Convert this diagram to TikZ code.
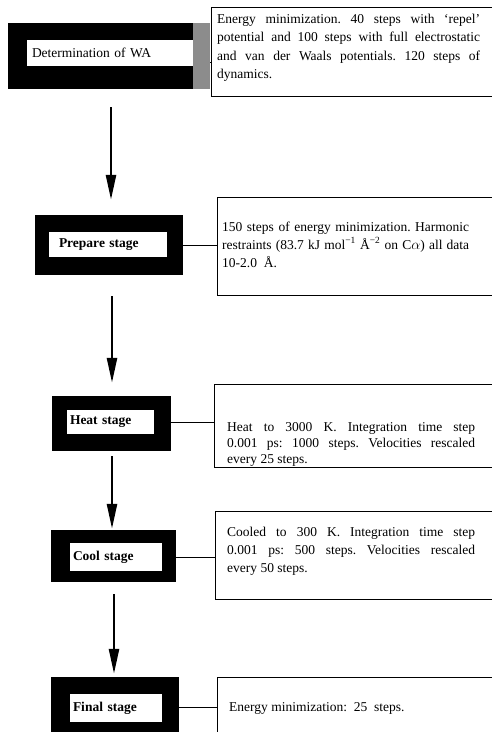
\documentclass[tikz,border=0pt]{standalone}
\usepackage{fontspec}
\setmainfont{Liberation Serif}
\usetikzlibrary{arrows.meta}
\tolerance=9999
\emergencystretch=20pt
\hyphenpenalty=10000
\frenchspacing
\newcommand\myBody{\fontsize{13.5}{18}\selectfont}
\newcommand\myBodyA{\fontsize{13.5}{18.4}\selectfont}
\newcommand\myBodyT{\fontsize{13.5}{16}\selectfont}
\newcommand\myLbl{\fontsize{13.5}{16}\selectfont}
\tikzset{
  outbox/.style={rectangle, fill=black, draw=none, inner sep=0pt},
  inbox/.style={rectangle, fill=white, draw=none, inner ysep=0pt, align=left, font=\myLbl},
  framebox/.style={rectangle, draw=black, line width=1.1pt, inner sep=0pt, anchor=north west},
  txt/.style={anchor=north west, inner sep=0pt, align=justify, font=\myBody},
  conn/.style={line width=1pt},
  arr/.style={line width=2.6pt, -{Triangle[length=25pt,width=10pt]}}
}
\begin{document}
\begin{tikzpicture}[x=1pt,y=-1pt]
\useasboundingbox (0,0) rectangle (491,732);
% stage boxes
\node[outbox, minimum width=202pt, minimum height=66pt] (b1) at (109,56) {};
\fill[black!45] ([xshift=-17pt]b1.north east) rectangle (b1.south east);
\node[inbox, minimum width=166pt, minimum height=26pt, text width=156pt, inner xsep=5pt] (l1) at (110,53) {Determination of WA};

\node[outbox, minimum width=148pt, minimum height=60pt] (b2) at (109,245) {};
\node[inbox, minimum width=118pt, minimum height=25pt, text width=98pt, inner xsep=9pt] (l2) at (108,244.5) {\bfseries Prepare stage};

\node[outbox, minimum width=119pt, minimum height=55pt] (b3) at (111.5,423.5) {};
\node[inbox, minimum width=87pt, minimum height=24pt, text width=81pt, inner xsep=3pt] (l3) at (110.5,422) {\bfseries Heat stage};

\node[outbox, minimum width=125pt, minimum height=52pt] (b4) at (113.5,556) {};
\node[inbox, minimum width=92pt, minimum height=28pt, text width=86pt, inner xsep=3pt] (l4) at (116,557) {\bfseries Cool stage};

\node[outbox, minimum width=128pt, minimum height=63pt] (b5) at (115,708.5) {};
\node[inbox, minimum width=92pt, minimum height=28pt, text width=86pt, inner xsep=3pt] (l5) at (116,708) {\bfseries Final stage};

% description frames
\node[framebox, minimum width=282pt, minimum height=89pt] (t1) at (211,7) {};
\node[txt, text width=263pt, font=\myBodyA] (d1) at (217,10.5) {\strut Energy minimization. 40 steps with ‘repel’\linebreak potential and 100 steps with full electrostatic\linebreak and van der Waals potentials. 120 steps of\linebreak dynamics.};

\node[framebox, minimum width=276pt, minimum height=98pt] (t2) at (217,197) {};
\node[txt, text width=247pt] (d2) at (222,218.4) {\strut 150 steps of energy minimization. Harmonic\linebreak restraints (83.7 kJ mol\textsuperscript{−1} Å\textsuperscript{−2} on C$\alpha$) all data\linebreak 10-2.0\ \ Å.};

\node[framebox, minimum width=279pt, minimum height=83pt] (t3) at (214,384) {};
\node[txt, text width=248pt, font=\myBodyT] (d3) at (227,420.5) {\strut Heat to 3000 K. Integration time step\linebreak 0.001 ps: 1000 steps. Velocities rescaled\linebreak every 25 steps.};

\node[framebox, minimum width=278pt, minimum height=88pt] (t4) at (215,511) {};
\node[txt, text width=248pt] (d4) at (227,524) {\strut Cooled to 300 K. Integration time step\linebreak 0.001 ps: 500 steps. Velocities rescaled\linebreak every 50 steps.};

\node[framebox, minimum width=276pt, minimum height=70pt] (t5) at (217,677) {};
\node[txt, text width=248pt] (d5) at (229,698.4) {\strut Energy minimization:\ \ 25\ \ steps.};

% connectors
\coordinate (c1) at (0,62);
\coordinate (c2) at (0,245);
\coordinate (c3) at (0,422);
\coordinate (c4) at (0,557);
\coordinate (c5) at (0,707);
\draw[conn] (b1.east |- c1) -- (t1.west |- c1);
\draw[conn] (b2.east |- c2) -- (t2.west |- c2);
\draw[conn] (b3.east |- c3) -- (t3.west |- c3);
\draw[conn] (b4.east |- c4) -- (t4.west |- c4);
\draw[conn] (b5.east |- c5) -- (t5.west |- c5);

% arrows
\coordinate (x1) at (111,0);
\coordinate (x2) at (112,0);
\coordinate (x3) at (112,0);
\coordinate (x4) at (114,0);
\draw[arr, shorten <=18pt, shorten >=15pt] (b1.south -| x1) -- (b2.north -| x1);
\draw[arr, shorten <=21pt, shorten >=13pt] (b2.south -| x2) -- (b3.north -| x2);
\draw[arr, shorten <=5pt, shorten >=1pt] (b3.south -| x3) -- (b4.north -| x3);
\draw[arr, shorten <=12pt, shorten >=3pt] (b4.south -| x4) -- (b5.north -| x4);
\end{tikzpicture}
\end{document}
